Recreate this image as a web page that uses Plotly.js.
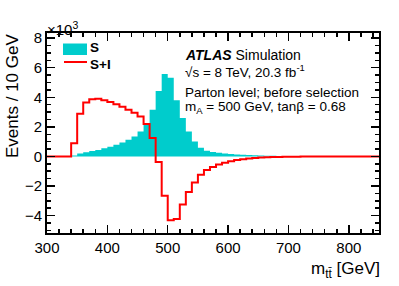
<!DOCTYPE html>
<html>
<head>
<meta charset="utf-8">
<script src="https://cdn.plot.ly/plotly-3.0.1.min.js"></script>
<style>html,body{margin:0;padding:0;background:#fff;}#plot{width:399px;height:286px;}</style>
</head>
<body>
<div id="plot"></div>
<script>
// Bin lower edges (GeV), 10 GeV bins
const binLow = [300,310,320,330,340,350,360,370,380,390,400,410,420,430,440,450,460,470,480,490,500,510,520,530,540,550,560,570,580,590,600,610,620,630,640,650,660,670,680,690,700,710,720,730,740,750,760,770,780,790,800,810,820,830,840];
const binHigh = 850;
// Signal S (x10^3 events / 10 GeV)
const sigS = [0,0,0,0,0.06,0.2,0.28,0.36,0.44,0.55,0.66,0.79,0.95,1.13,1.35,1.69,2.2,3.15,4.42,5.57,5.32,3.8,2.6,1.69,1.01,0.58,0.38,0.3,0.25,0.2,0.16,0.13,0.11,0.09,0.075,0.06,0.05,0.04,0.032,0.026,0.021,0.016,0.012,0.009,0.007,0.005,0.004,0.003,0.002,0,0,0,0,0,0];
// Signal + interference S+I (x10^3 events / 10 GeV)
const sigSI = [0,0,0,0,0.9,2.88,3.64,3.86,3.9,3.8,3.68,3.53,3.36,3.16,2.95,2.7,2.2,1.25,-0.37,-2.66,-4.32,-4.23,-3.26,-2.4,-1.76,-1.24,-0.92,-0.72,-0.55,-0.43,-0.33,-0.25,-0.19,-0.14,-0.11,-0.08,-0.06,-0.045,-0.035,-0.025,-0.02,-0.015,-0.01,-0.008,-0.005,-0.003,0,0,0,0,0,0,0,0,0];
const xTickVals = [300,400,500,600,700,800];
const yTickVals = [-4,-2,0,2,4,6,8];

const edges = binLow.concat([binHigh]);
const stepS = sigS.concat([sigS[sigS.length-1]]);
const stepSI = sigSI.concat([sigSI[sigSI.length-1]]);

const CYAN = '#00cccc';
const RED = '#ff0000';
const FONT = 'Liberation Sans, Arial, Helvetica, sans-serif';

const traces = [
  {x: edges, y: stepS, type: 'scatter', mode: 'lines', line: {shape: 'hv', width: 0, color: CYAN},
   fill: 'tozeroy', fillcolor: CYAN, name: 'S', showlegend: false, hoverinfo: 'skip'},
  {x: edges, y: stepSI, type: 'scatter', mode: 'lines', line: {shape: 'hv', width: 2, color: RED},
   name: 'S+I', showlegend: false, hoverinfo: 'skip'}
];

// plot area in pixels: left 47, right 379, top 33, bottom 233
const L = 47, R = 379, T = 33, B = 233;
const X = px => (px - L) / (R - L);
const Y = py => (B - py) / (B - T);

const ann = (text, px, py, opts) => Object.assign({
  text: text, x: X(px), y: Y(py), xref: 'paper', yref: 'paper', showarrow: false,
  xanchor: 'left', yanchor: 'middle', borderpad: 0, font: {family: FONT, size: 13.5, color: '#000'}
}, opts || {});

const layout = {
  width: 399, height: 286,
  margin: {l: L, r: 399 - R, t: T, b: 286 - B, pad: 0},
  paper_bgcolor: '#fff', plot_bgcolor: '#fff',
  showlegend: false,
  font: {family: FONT, size: 15, color: '#000'},
  xaxis: {
    range: [300, 850], tickvals: xTickVals, ticks: 'inside', ticklen: 8, tickwidth: 1.5, tickcolor: '#000',
    showline: true, linewidth: 2, linecolor: '#000', mirror: 'allticks',
    showgrid: false, zeroline: false, tickfont: {family: FONT, size: 15},
    minor: {ticks: 'inside', dtick: 20, tick0: 300, ticklen: 4, tickwidth: 1.5, tickcolor: '#000', showgrid: false}
  },
  yaxis: {
    range: [-5.18, 8.35], tickvals: yTickVals, ticks: 'inside', ticklen: 8, tickwidth: 1.5, tickcolor: '#000',
    showline: true, linewidth: 2, linecolor: '#000', mirror: 'allticks',
    showgrid: false, zeroline: false, tickfont: {family: FONT, size: 15},
    minor: {ticks: 'inside', dtick: 0.5, tick0: 0, ticklen: 4, tickwidth: 1.5, tickcolor: '#000', showgrid: false}
  },
  shapes: [
    {type: 'rect', xref: 'paper', yref: 'paper', x0: X(63), x1: X(87), y0: Y(55), y1: Y(43.5),
     fillcolor: CYAN, line: {width: 0}},
    {type: 'line', xref: 'paper', yref: 'paper', x0: X(64), x1: X(87), y0: Y(62), y1: Y(62),
     line: {color: RED, width: 2}}
  ],
  annotations: [
    ann('<b>S</b>', 89, 48, {font: {family: FONT, size: 13.5, color: '#000'}}),
    ann('<b>S+I</b>', 89, 64, {font: {family: FONT, size: 13.5, color: '#000'}}),
    ann('<b><i>ATLAS</i></b> Simulation', 184, 55, {font: {family: FONT, size: 14, color: '#000'}}),
    ann('√s = 8 TeV, 20.3 fb<sup>-1</sup>', 184, 71),
    ann('Parton level; before selection', 184, 92),
    ann('m<sub>A</sub> = 500 GeV, tanβ = 0.68', 184, 107),
    ann('×10<sup>3</sup>', 46, 28, {font: {family: FONT, size: 15, color: '#000'}}),
    ann('m<sub>tt̄</sub> [GeV]', 381, 258, {xanchor: 'right', yanchor: 'top', font: {family: FONT, size: 17, color: '#000'}}),
    ann('Events / 10 GeV', 12, 33, {xanchor: 'center', yanchor: 'top', textangle: -90, font: {family: FONT, size: 17, color: '#000'}})
  ]
};

Plotly.newPlot('plot', traces, layout, {staticPlot: true, displayModeBar: false});
</script>
</body>
</html>
